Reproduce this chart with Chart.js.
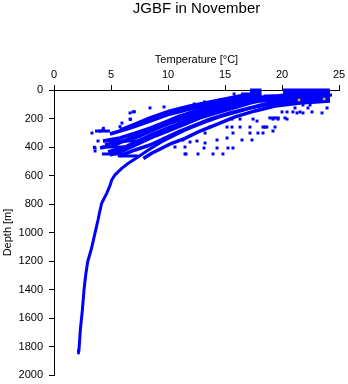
<!DOCTYPE html>
<html><head><meta charset="utf-8">
<script src="https://cdn.jsdelivr.net/npm/chart.js@4/dist/chart.umd.min.js"></script>
<style>html,body{margin:0;padding:0;background:#fff}#wrap{width:348px;height:384px}</style>
</head><body><div id="wrap"><canvas id="c"></canvas></div>
<script>
const chartTitle = 'JGBF in November';
const xTitle = 'Temperature [°C]';
const yTitle = 'Depth [m]';
const tempRange = [0, 25];
const depthRange = [0, 2000];

// Main profile reaching the deep water
const deepTemp  = [24.39, 23.33, 21.58, 19.82, 18.07, 16.32, 14.56, 13.25, 11.93, 11.5, 10.6, 9.45, 8.27, 7.4, 6.52, 5.94, 5.35, 5.06, 4.91, 4.62, 4.18, 3.98, 3.86, 3.6, 3.3, 2.95, 2.78, 2.63, 2.49, 2.31, 2.19, 2.15];
const deepDepth = [35, 42, 56, 77, 105, 147, 189, 225, 267, 281, 316, 363, 421, 468, 514, 550, 596, 632, 670, 725, 795, 865, 912, 1003, 1109, 1207, 1298, 1404, 1544, 1684, 1825, 1845];

// Shallower profiles
const profBTemp  = [24.21, 21.58, 19.39, 17.63, 15.88, 14.12, 12.81, 11.49, 10.32, 9.45, 8.57, 7.84];
const profBDepth = [77, 91, 112, 147, 189, 246, 288, 339, 374, 409, 444, 480];
const profCTemp  = [24.21, 21.58, 19.82, 18.07, 16.32, 14.56, 12.81, 11.49, 10.18, 8.86, 7.54, 6.23, 4.91];
const profCDepth = [28, 35, 49, 70, 112, 154, 196, 239, 281, 323, 372, 421, 456];
const profDTemp  = [24.21, 21.58, 19.6, 17.19, 15.44, 13.68, 11.93, 10.61, 9.30, 7.98, 6.67, 5.35, 4.04];
const profDDepth = [14, 21, 42, 56, 91, 126, 161, 204, 246, 288, 337, 386, 407];
const profETemp  = [16.75, 14.56, 12.81, 11.05, 9.74, 8.42, 7.11, 5.79, 4.30];
const profEDepth = [56, 98, 140, 182, 225, 267, 302, 337, 358];
const profFTemp  = [16.75, 15.44, 13.68, 11.93, 10.18, 8.42, 7.11, 5.79];
const profFDepth = [35, 56, 84, 112, 147, 196, 239, 281];
const profGTemp  = [17.19, 15.44, 13.68, 11.93, 10.18, 8.42, 6.67, 4.91];
const profGDepth = [42, 70, 105, 133, 168, 218, 267, 309];
const profHTemp  = [19.82, 18.07, 16.32, 14.56, 12.81, 11.49, 10.18, 8.86, 7.54, 6.23, 4.47];
const profHDepth = [49, 56, 77, 119, 161, 196, 232, 274, 323, 358, 386];
const profITemp  = [24.21, 20.7, 18.07, 16.32, 14.56, 12.81, 11.49, 10.18, 8.86, 7.54, 6.23, 4.74];
const profIDepth = [49, 63, 77, 98, 140, 175, 218, 260, 302, 351, 400, 435];
const profJTemp  = [24.21, 21.58, 18.95, 17.19, 15.44, 13.68, 12.37, 11.05, 9.74, 8.42, 7.11, 5.79];
const profJDepth = [63, 77, 98, 126, 161, 204, 246, 288, 337, 386, 421, 463];

// Runs of samples at a constant depth
const runDepth     = [0, 14, 28, 42, 56, 0, 14, 28, 42, 56, 70, 449, 463, 400, 358, 288, 196, 260];
const runTempStart = [17.2, 17.2, 16.4, 16.4, 16.4, 20.1, 20.1, 20.1, 18.4, 18.4, 18.6, 4.2, 5.6, 4.6, 4.3, 3.6, 18.8, 18.2];
const runTempEnd   = [18.2, 18.2, 18.2, 18.2, 18.2, 24.2, 24.2, 24.2, 24.2, 24.2, 24.2, 6.4, 7.4, 6.2, 7.5, 4.9, 19.8, 18.8];

// Scattered single samples
const dotTemp  = [11.32, 13.68, 15.18, 15.61, 16.32, 17.19, 18.51, 19.39, 15.70, 17.19, 17.89, 18.33, 19.21, 13.25, 11.32, 11.93, 13.25, 14.30, 15.18, 16.49, 17.37, 11.49, 12.54, 13.16, 14.30, 15.26, 15.70, 11.58, 12.63, 13.95, 14.82, 15.61, 16.32, 17.46, 17.81, 19.21, 19.65, 20.44, 20.0, 20.44, 20.96, 21.58, 21.84, 23.51, 21.14, 21.84, 22.46, 23.95, 22.28, 20.26, 21.32, 22.63, 8.42, 9.65, 11.40, 6.93, 6.67, 5.96, 6.67, 3.33, 4.04, 4.30, 3.86, 3.60, 3.60, 4.30, 10.61, 11.49, 5.79, 7.05, 6.72, 4.33, 3.54, 14.56, 13.2, 12.3, 15.8, 15.9, 16.0];
const dotDepth = [126, 260, 260, 260, 260, 260, 260, 260, 302, 302, 302, 302, 288, 302, 351, 365, 372, 351, 337, 351, 351, 400, 358, 407, 407, 407, 407, 449, 449, 449, 449, 204, 204, 204, 218, 204, 204, 204, 154, 154, 154, 154, 161, 161, 126, 105, 105, 126, 126, 196, 161, 154, 126, 119, 126, 154, 161, 232, 204, 302, 288, 281, 358, 407, 428, 400, 400, 449, 257, 152, 206, 269, 402, 70, 84, 98, 28, 49, 70];

// Highlighted samples
const warmTemp  = [21.5, 23.7];
const warmDepth = [70, 63];

const BLUE = '#0000ff';
const zip = (t, d) => t.map((v, i) => ({x: v, y: d[i]}));
const lineSet = (t, d, w) => ({data: zip(t, d), showLine: true, borderColor: BLUE, borderWidth: w, pointRadius: 0, fill: false, tension: 0, clip: false, borderJoinStyle: 'round'});

const datasets = [];
datasets.push({data: zip(warmTemp, warmDepth), pointStyle: 'rect', pointRadius: 1.8, backgroundColor: '#f5a01e', borderWidth: 0, clip: false});
datasets.push({data: zip(dotTemp, dotDepth), pointStyle: 'rect', pointRadius: 2.1, backgroundColor: BLUE, borderWidth: 0, clip: false});
runDepth.forEach((d, i) => datasets.push(lineSet([runTempStart[i], runTempEnd[i]], [d, d], 3)));
[[profBTemp, profBDepth], [profCTemp, profCDepth], [profDTemp, profDDepth], [profETemp, profEDepth],
 [profFTemp, profFDepth], [profGTemp, profGDepth], [profHTemp, profHDepth], [profITemp, profIDepth],
 [profJTemp, profJDepth]].forEach(p => datasets.push(lineSet(p[0], p[1], 3.5)));
datasets.push(lineSet(deepTemp, deepDepth, 3));

Chart.defaults.font.family = '"Liberation Sans", Arial, sans-serif';
Chart.defaults.color = '#000';

new Chart(document.getElementById('c'), {
  type: 'scatter',
  data: {datasets},
  options: {
    responsive: true, maintainAspectRatio: false, animation: false,
    layout: {padding: {left: 0, right: 9, top: 0, bottom: 9}},
    plugins: {
      legend: {display: false}, tooltip: {enabled: false},
      title: {display: true, text: chartTitle, fullSize: false, color: '#000',
        font: {size: 15, weight: 'normal', lineHeight: 1}, padding: {top: 1, bottom: 0}}
    },
    scales: {
      x: {
        type: 'linear', position: 'top', min: tempRange[0], max: tempRange[1],
        afterFit: s => { s.height = 74; s.paddingLeft = 0; s.paddingRight = 0; },
        ticks: {stepSize: 5, padding: 3, font: {size: 11}, color: '#000', maxRotation: 0, callback: v => String(v)},
        grid: {display: true, drawOnChartArea: false, drawTicks: true, tickLength: 5, tickColor: '#000', color: '#000'},
        border: {display: true, color: '#000', width: 1},
        title: {display: true, text: xTitle, font: {size: 11}, color: '#000', padding: {top: 37, bottom: 0}}
      },
      y: {
        type: 'linear', reverse: true, min: depthRange[0], max: depthRange[1],
        afterFit: s => { s.width = 54; s.paddingTop = 0; s.paddingBottom = 0; },
        ticks: {stepSize: 200, padding: 6, font: {size: 11}, color: '#000', callback: v => String(v)},
        grid: {display: true, drawOnChartArea: false, drawTicks: true, tickLength: 5, tickColor: '#000', color: '#000'},
        border: {display: true, color: '#000', width: 1},
        title: {display: true, text: yTitle, font: {size: 11}, color: '#000', padding: {top: 1, bottom: 0}}
      }
    }
  }
});
</script></body></html>
